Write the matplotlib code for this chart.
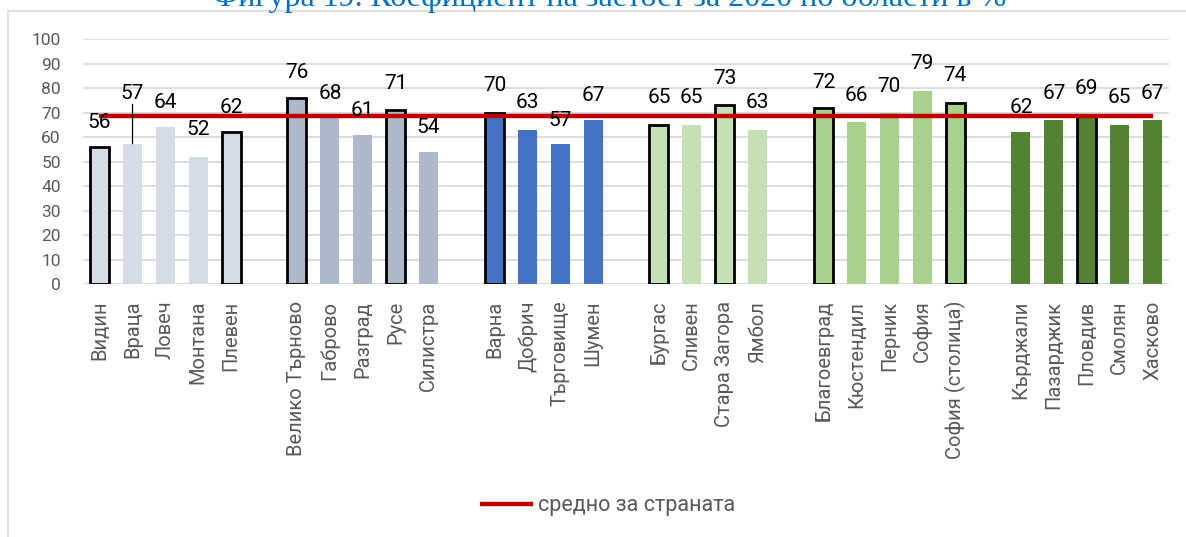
import numpy as np
import matplotlib.pyplot as plt
from matplotlib.patches import Rectangle

plt.rcParams['font.family'] = ['Roboto', 'DejaVu Sans']

regions = ['Видин', 'Враца', 'Ловеч', 'Монтана', 'Плевен',
           'Велико Търново', 'Габрово', 'Разград', 'Русе', 'Силистра',
           'Варна', 'Добрич', 'Търговище', 'Шумен',
           'Бургас', 'Сливен', 'Стара Загора', 'Ямбол',
           'Благоевград', 'Кюстендил', 'Перник', 'София', 'София (столица)',
           'Кърджали', 'Пазарджик', 'Пловдив', 'Смолян', 'Хасково']
values = [56, 57, 64, 52, 62,
          76, 68, 61, 71, 54,
          70, 63, 57, 67,
          65, 65, 73, 63,
          72, 66, 70, 79, 74,
          62, 67, 69, 65, 67]
group_sizes = [5, 5, 4, 4, 5, 5]
group_colors = ['#D6DCE5', '#ADB9CA', '#4472C4', '#C5E0B4', '#A9D18E', '#548235']
outlined = ['Видин', 'Плевен', 'Велико Търново', 'Русе', 'Варна', 'Бургас',
            'Стара Загора', 'Благоевград', 'София (столица)', 'Пловдив']
country_avg = 68.5
legend_label = 'средно за страната'
title = 'Фигура 19. Коефициент на заетост за 2020 по области в %'

# hand-placed data label heights (as in the original Excel chart)
label_y = [66, 78, 74, 63, 72,
           86.5, 78, 71, 82, 64,
           81, 74, 67, 77,
           76, 76, 84, 74,
           82.5, 77, 80.5, 90, 85,
           72, 78, 80, 76, 78]

# slot positions with one empty slot between groups
x, colors = [], []
pos = 0
for size, col in zip(group_sizes, group_colors):
    for i in range(size):
        x.append(pos)
        colors.append(col)
        pos += 1
    pos += 1
x = np.array(x)

fig = plt.figure(figsize=(11.86, 5.37), dpi=100)
ax = fig.add_axes([0.07, 0.471, 0.9157, 0.456])

edges = ['black' if r in outlined else 'none' for r in regions]
lws = [2.0 if r in outlined else 0 for r in regions]
ax.bar(x, values, width=0.58, color=colors, edgecolor=edges, linewidth=lws, zorder=2)

ax.plot([x[0], x[-1]], [country_avg, country_avg], color='#C00000', lw=3.2,
        solid_capstyle='butt', zorder=3, label=legend_label)

for xi, v, ly in zip(x, values, label_y):
    ax.text(xi, ly, str(v), ha='center', va='center', fontsize=15, color='black', zorder=4)

# leader line for Враца
ax.plot([x[1], x[1]], [label_y[1] - 4.5, values[1] + 0.5], color='black', lw=0.9, zorder=4)

ax.set_xlim(-0.5, pos - 1.5)
ax.set_ylim(0, 100)
ax.set_yticks(range(0, 101, 10))
ax.set_xticks(x)
ax.set_xticklabels(regions, rotation=90, fontsize=14.5, color='#595959')
ax.tick_params(axis='y', length=0, pad=16, labelsize=12.5, labelcolor='#595959')
ax.tick_params(axis='x', length=0, pad=12)
ax.grid(axis='y', color='#D9D9D9', lw=1.3, zorder=0)
for s in ax.spines.values():
    s.set_visible(False)

fig.legend(loc='center', bbox_to_anchor=(0.512, 1 - 506 / 537), frameon=False,
           fontsize=15.5, handlelength=2.5, handletextpad=0.2, labelcolor='#595959')

# outer chart frame
fig.patches.append(Rectangle((8 / 1186, -0.1), 1.2, 1.1 - 11 / 537, transform=fig.transFigure,
                             fill=False, edgecolor='#D9D9D9', lw=1.2))
fig.text(0.514, 1 - 6 / 537, title, ha='center', va='baseline', fontsize=23,
         color='#0070C0', family='Liberation Serif')

fig.savefig('out.png', dpi=100)
